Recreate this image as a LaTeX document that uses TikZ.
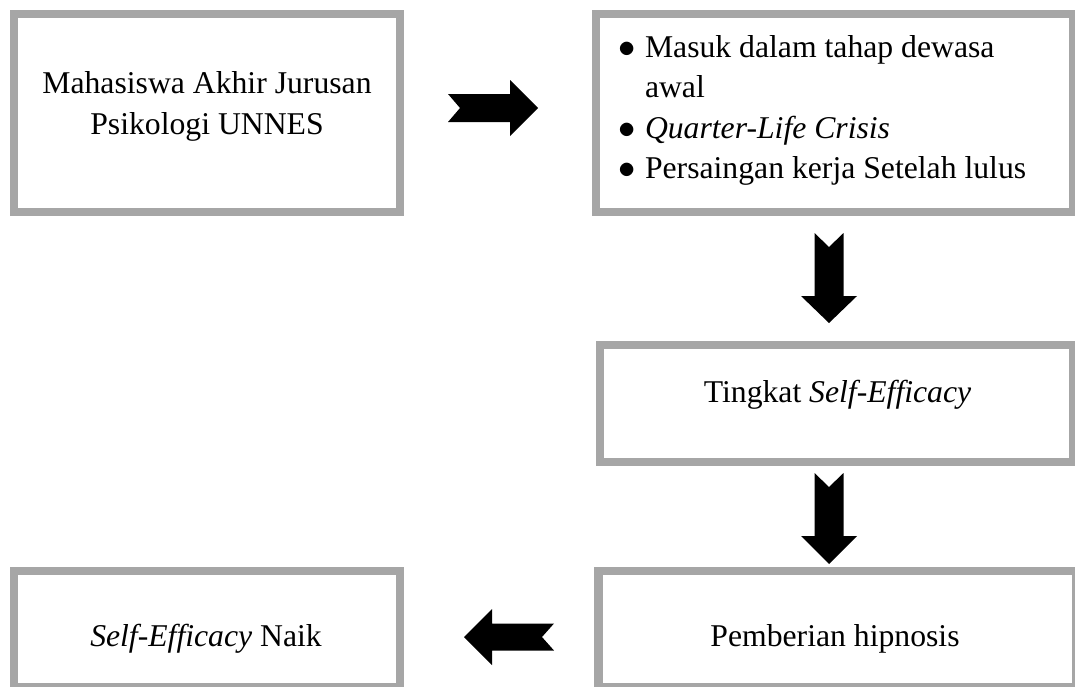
\documentclass[tikz,border=0pt]{standalone}
\usepackage{fontspec}
\setmainfont{Liberation Serif}
\definecolor{boxgray}{HTML}{A6A6A6}
\tikzset{
  box/.style={draw=boxgray, line width=4.25pt, fill=white, inner sep=0pt, outer sep=0pt},
  txt/.style={font=\fontsize{15.85pt}{19pt}\selectfont, inner sep=0pt, outer sep=0pt, anchor=base},
  lefttxt/.style={txt, anchor=base west},
  blockarrow/.style={fill=black, draw=none}
}
\begin{document}
\begin{tikzpicture}[x=0.5pt,y=-0.5pt]
\useasboundingbox (0,0) rectangle (1075,686);
% boxes
\node[box, minimum width=193pt, minimum height=99pt] (b1) at (207,113) {};
\node[box, minimum width=238.5pt, minimum height=99pt] (b2) at (834.5,113) {};
\node[box, minimum width=236.5pt, minimum height=58.5pt] (b3) at (836.5,403.5) {};
\node[box, minimum width=193pt, minimum height=58pt] (b4) at (207,629) {};
\node[box, minimum width=238.75pt, minimum height=58pt] (b5) at (837.25,629) {};
% texts
\node[txt] (t1a) at (207,93) {Mahasiswa Akhir Jurusan};
\node[txt] (t1b) at (207,134) {Psikologi UNNES};
\node[lefttxt] (p1) at (618.5,57) {$\bullet$};
\node[lefttxt] (l1) at (645,57) {Masuk dalam tahap dewasa};
\node[lefttxt] (l2) at (645,97) {awal};
\node[lefttxt] (p2) at (618.5,138) {$\bullet$};
\node[lefttxt] (l3) at (645,138) {\itshape Quarter-Life Crisis};
\node[lefttxt] (p3) at (618.5,178) {$\bullet$};
\node[lefttxt] (l4) at (645,178) {Persaingan kerja Setelah lulus};
\node[txt] (t3) at (837.5,402) {Tingkat \textit{Self-Efficacy}};
\node[txt] (t4) at (206,646) {\textit{Self-Efficacy} Naik};
\node[txt] (t5) at (835,646) {Pemberian hipnosis};
% block arrows
\fill[blockarrow] (448,94) -- (510,94) -- (510,80) -- (538,108) -- (510,136) -- (510,122) -- (448,122) -- (460,108) -- cycle;
\fill[blockarrow] (814.5,233) -- (829,247) -- (843.5,233) -- (843.5,296) -- (857,296) -- (829,323) -- (801,296) -- (814.5,296) -- cycle;
\fill[blockarrow] (814.5,473) -- (829,487) -- (843.5,473) -- (843.5,536) -- (857,536) -- (829,564) -- (801,536) -- (814.5,536) -- cycle;
\fill[blockarrow] (464,637) -- (492,609) -- (492,623.5) -- (554,623.5) -- (542,637) -- (554,650.5) -- (492,650.5) -- (492,665) -- cycle;
\end{tikzpicture}
\end{document}
